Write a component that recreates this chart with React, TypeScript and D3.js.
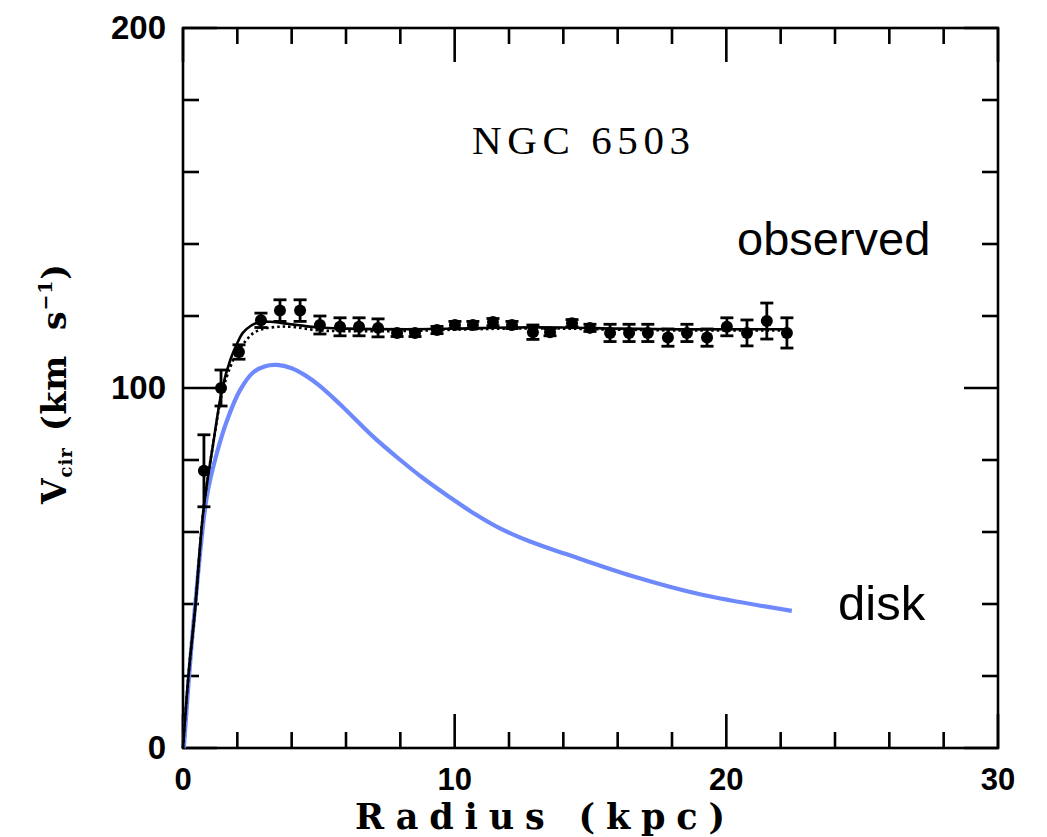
import React from "react";
import * as d3 from "d3";

// observed rotation curve points
const obsR = [0.77, 1.4, 2.06, 2.87, 3.57, 4.31, 5.04, 5.78, 6.48, 7.18, 7.88, 8.54, 9.35, 10.01, 10.67, 11.41, 12.11, 12.88, 13.51, 14.32, 14.98, 15.72, 16.42, 17.11, 17.85, 18.55, 19.29, 20.02, 20.76, 21.49, 22.23];
const obsV = [77, 100, 110, 118.8, 121.5, 121.5, 117.5, 117, 117, 116.7, 115.3, 115.3, 116.1, 117.5, 117.5, 118.3, 117.5, 115.5, 115.5, 118, 116.7, 115.3, 115.3, 115.3, 114, 115.3, 114, 117, 115.3, 118.6, 115.3];
const obsE = [10, 5, 2, 2, 3, 3, 2.5, 2.5, 2.5, 2.5, 1, 1, 1, 1, 1, 1, 1, 2, 1, 1, 1, 2.4, 2.4, 2.4, 2.4, 2.4, 2.4, 2.5, 3.6, 5, 4.2];

// total model fit (solid)
const fitR = [0, 0.2, 0.45, 0.75, 1.1, 1.45, 1.75, 2.0, 2.2, 2.5, 2.8, 3.2, 3.6, 4.2, 5.0, 6, 8, 10, 12, 14, 16, 18, 20, 22.3];
const fitV = [0, 20, 39, 66, 84, 100, 108, 112.5, 115.3, 117.3, 118.3, 118.4, 118.1, 117.5, 116.8, 116.5, 116.3, 116.5, 116.8, 116.8, 116.5, 116.3, 116.3, 116.3];

// alternative fit (dotted)
const dotR = [0, 0.2, 0.45, 0.75, 1.1, 1.45, 1.75, 2.0, 2.3, 2.6, 3.0, 3.5, 4.0, 5.0, 6, 8, 10, 12, 14, 16, 18, 20, 22.3];
const dotV = [0, 20, 39, 66, 84, 99, 106, 110, 113, 115.3, 116.5, 117, 117, 116, 115.8, 115.8, 116.2, 116.5, 116.5, 116.2, 116, 116, 116];

// disk contribution (blue)
const diskR = [0.03, 0.22, 0.44, 0.88, 1.25, 1.62, 2.1, 2.58, 3.0, 3.46, 4.0, 4.5, 5.0, 5.78, 7.0, 8.0, 8.83, 9.83, 10.7, 11.67, 12.8, 14.13, 16.56, 19.03, 22.41];
const diskV = [0, 19.7, 39, 70, 82, 91, 99.4, 104.3, 106, 106.4, 105.5, 103.5, 100.8, 95.5, 86.5, 80, 75, 69.6, 65.2, 61, 57.3, 53.8, 47.7, 42.7, 38.1];

const xTicks = [0, 10, 20, 30];
const yTicks = [0, 100, 200];

export default function App() {
  const W = 1047, H = 837;
  const x = d3.scaleLinear().domain([0, 30]).range([183, 998]);
  const y = d3.scaleLinear().domain([0, 200]).range([748, 28]);
  const [x0, x1] = x.range();
  const [y0, y1] = y.range();

  const line = d3.line<[number, number]>().x(d => x(d[0])).y(d => y(d[1])).curve(d3.curveCatmullRom.alpha(0.5));
  const fitPath = line(fitR.map((r, i) => [r, fitV[i]]))!;
  const dotPath = line(dotR.map((r, i) => [r, dotV[i]]))!;
  const diskPath = line(diskR.map((r, i) => [r, diskV[i]]))!;

  const xMinor = d3.range(0, 31, 2);
  const yMinor = d3.range(0, 201, 20);
  const MAJ = 34, MIN = 16;
  const sw = 2.6;

  return (
    <div style={{ position: "absolute", left: 0, top: 0 }}>
      <svg width={W} height={H} style={{ display: "block", background: "#fff" }}>
        {/* ticks */}
        <g stroke="#000" strokeWidth={sw}>
          {xMinor.map(t => {
            const L = t % 10 === 0 ? MAJ : MIN;
            return (
              <g key={"x" + t}>
                <line x1={x(t)} x2={x(t)} y1={y0} y2={y0 - L} />
                <line x1={x(t)} x2={x(t)} y1={y1} y2={y1 + L} />
              </g>
            );
          })}
          {yMinor.map(t => {
            const L = t % 100 === 0 ? MAJ : MIN;
            return (
              <g key={"y" + t}>
                <line x1={x0} x2={x0 + L} y1={y(t)} y2={y(t)} />
                <line x1={x1} x2={x1 - L} y1={y(t)} y2={y(t)} />
              </g>
            );
          })}
        </g>
        <rect x={x0} y={y1} width={x1 - x0} height={y0 - y1} fill="none" stroke="#000" strokeWidth={sw} />

        {/* tick labels */}
        <g fontFamily="'Liberation Sans', Arial, sans-serif" fontWeight="bold" fill="#000">
          {xTicks.map(t => (
            <text key={"xl" + t} x={x(t)} y={790} textAnchor="middle" fontSize={31}>{t}</text>
          ))}
          {yTicks.map(t => (
            <text key={"yl" + t} x={166} y={y(t) + 11} textAnchor="end" fontSize={33}>{t}</text>
          ))}
        </g>

        {/* axis titles */}
        <text x={540} y={829} textAnchor="middle" fontFamily="'DejaVu Serif', serif" fontWeight="bold" fontSize={35} textLength={370} lengthAdjust="spacing">Radius (kpc)</text>
        <text transform={`translate(66, 384) rotate(-90)`} textAnchor="middle" fontFamily="'DejaVu Serif', serif" fontWeight="bold" fontSize={33} textLength={240} lengthAdjust="spacing">
          <tspan>V</tspan>
          <tspan fontSize={18} dy={6}>cir</tspan>
          <tspan dy={-6} dx={4}>{"\u00a0(km\u00a0\u00a0s"}</tspan>
          <tspan fontSize={19} dy={-14}>−1</tspan>
          <tspan dy={14}>)</tspan>
        </text>

        {/* curves */}
        <path d={diskPath} fill="none" stroke="#6e89fb" strokeWidth={4.2} />
        <path d={dotPath} fill="none" stroke="#000" strokeWidth={2.6} strokeDasharray="2.5,3" />
        <path d={fitPath} fill="none" stroke="#000" strokeWidth={2.6} />

        {/* observed points */}
        <g stroke="#000" strokeWidth={2.8} fill="#000">
          {obsR.map((r, i) => {
            const cx = x(r), top = y(obsV[i] + obsE[i]), bot = y(obsV[i] - obsE[i]);
            return (
              <g key={"p" + i}>
                <line x1={cx} x2={cx} y1={top} y2={bot} />
                <line x1={cx - 6.5} x2={cx + 6.5} y1={top} y2={top} />
                <line x1={cx - 6.5} x2={cx + 6.5} y1={bot} y2={bot} />
                <circle cx={cx} cy={y(obsV[i])} r={6} stroke="none" />
              </g>
            );
          })}
        </g>

        {/* annotations */}
        <text x={581} y={154} textAnchor="middle" fontFamily="'Liberation Serif', serif" fontSize={41} textLength={218} lengthAdjust="spacing">NGC 6503</text>
        <text x={737} y={255} fontFamily="'Liberation Sans', Arial, sans-serif" fontSize={47}>observed</text>
        <text x={838} y={620} fontFamily="'Liberation Sans', Arial, sans-serif" fontSize={49}>disk</text>
      </svg>
    </div>
  );
}
